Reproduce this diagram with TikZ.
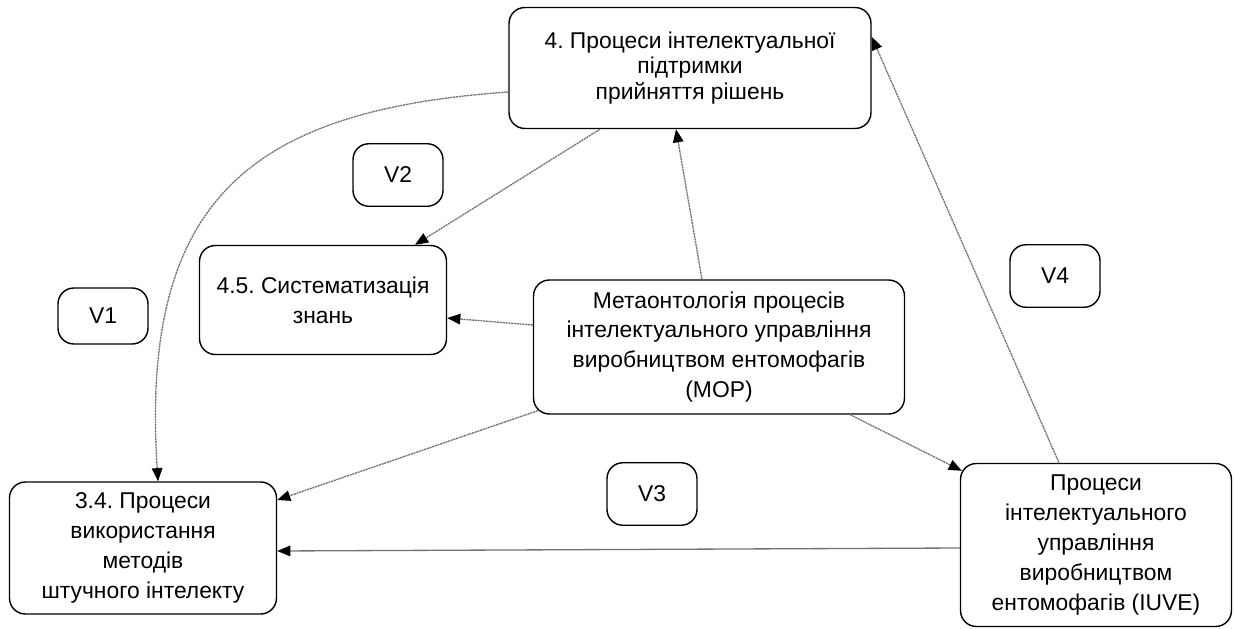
\documentclass[tikz,border=0pt]{standalone}
\usepackage{fontspec}
\setmainfont{Liberation Sans}
\usepackage{tikz}
\usetikzlibrary{arrows.meta,positioning,calc}
\frenchspacing

\begin{document}
\begin{tikzpicture}[
		x=0.02cm, y=-0.02cm,
		proc/.style={rectangle, draw=black, line width=0.8pt, rounded corners=9pt,
				align=center, inner sep=0pt,
				font=\fontsize{13}{17}\selectfont},
		vbox/.style={proc, minimum width=1.8cm, minimum height=1.25cm},
		arr/.style={-{Triangle[length=7.5pt,width=6pt,color=black]}, black!55, line width=0.75pt,
				dash pattern=on 1.2pt off 0.4pt},
		solidarr/.style={-{Triangle[length=7.5pt,width=6pt,color=black]}, black!55, line width=0.75pt},
		]
		\useasboundingbox (0,0) rectangle (1235,629);

		% Nodes
		\node[proc, minimum width=7.24cm, minimum height=2.42cm,
			font=\fontsize{13}{14.7}\selectfont] (dec) at (690,68)
			{4. Процеси інтелектуальної\\підтримки\\прийняття рішень};
		\node[vbox] (vtwo) at (398,175) {V2};
		\node[proc, minimum width=4.94cm, minimum height=2.18cm] (sys) at (323,300)
			{4.5. Систематизація\\знань};
		\node[vbox, minimum height=1.12cm] (vone) at (103,316) {V1};
		\node[proc, minimum width=7.42cm, minimum height=2.68cm] (mop) at (719,347)
			{Метаонтологія процесів\\інтелектуального управління\\виробництвом ентомофагів\\(МОР)};
		\node[vbox] (vfour) at (1055,276) {V4};
		\node[vbox] (vthree) at (652,494) {V3};
		\node[proc, minimum width=5.42cm, minimum height=3.26cm] (iuve) at (1096,545)
			{Процеси\\інтелектуального\\управління\\виробництвом\\ентомофагів (IUVE)};
		\node[proc, minimum width=5.34cm, minimum height=2.64cm] (ai) at (143,548)
			{3.4. Процеси\\використання\\методів\\штучного інтелекту};

		% Arrows
		\draw[arr] ($(dec.south)+(-90,0)$) -- ($(sys.north)+(92,0)$);
		\draw[arr] ($(mop.north)+(-17,0)$) -- ($(dec.south)+(-14,0)$);
		\draw[arr] ($(mop.west)+(0,-22)$) -- ($(sys.east)+(0,18)$);
		\draw[arr] ($(mop.south west)+(5,-4)$) -- ($(ai.east)+(0,-48)$);
		\draw[arr] ($(mop.south east)+(-55,0)$) -- ($(iuve.north west)+(2,8)$);
		\draw[arr] ($(iuve.north)+(-37,0)$) -- ($(dec.north east)+(0,30)$);
		\draw[solidarr] ($(iuve.west)+(0,3)$) -- ($(ai.east)+(0,3)$);
		\draw[arr] ($(dec.west)+(0,24)$) .. controls (250,110) and (140,200) .. ($(ai.north)+(15,0)$);
	\end{tikzpicture}
\end{document}
